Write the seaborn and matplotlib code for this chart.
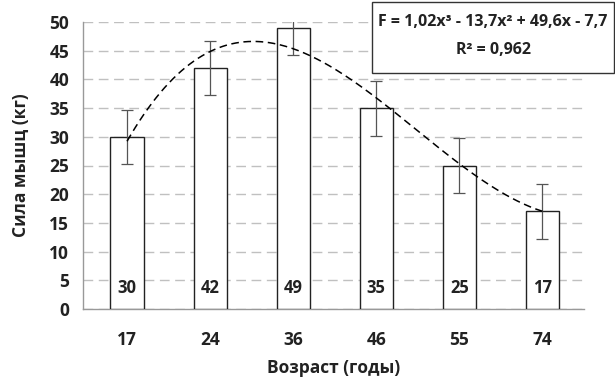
import numpy as np
import pandas as pd
import matplotlib
matplotlib.use("Agg")
import matplotlib.pyplot as plt
import seaborn as sns
from matplotlib.patches import Rectangle

# данные
ages = ["17", "24", "36", "46", "55", "74"]
strength = [30, 42, 49, 35, 25, 17]
errors = [4.7, 4.75, 4.8, 4.8, 4.85, 4.75]
# коэффициенты полиномиального тренда (с графика)
trend_coef = [1.02, -13.7, 49.6, -7.7]

sns.set_style("white")
plt.rcParams["font.family"] = ["Open Sans", "DejaVu Sans"]
plt.rcParams["font.weight"] = "bold"

df = pd.DataFrame({"Возраст": ages, "Сила": strength})

fig = plt.figure(figsize=(6.15, 3.82), dpi=100)
ax = fig.add_axes([83 / 615, 1 - 309 / 382, 501 / 615, 287 / 382])

sns.barplot(data=df, x="Возраст", y="Сила", color="white", edgecolor="#222222",
            linewidth=1.0, width=0.4, ax=ax, zorder=3)
ax.errorbar(range(len(ages)), strength, yerr=errors, fmt="none", ecolor="#555555",
            elinewidth=0.9, capsize=4, capthick=0.9, zorder=4)

# линия тренда
xs = np.linspace(1, 6, 200)
ax.plot(xs - 1, np.polyval(trend_coef, xs), color="black", linestyle=(0, (5, 3)),
        linewidth=1.1, zorder=5)

# подписи внутри столбцов
for i, v in enumerate(strength):
    ax.text(i, 3.6, str(v), ha="center", va="center", fontsize=12, fontweight="bold",
            color="#222222", zorder=6)

ax.set_ylim(0, 50)
ax.set_xlim(-0.53, 5.5)
ax.set_yticks(range(0, 51, 5))
ax.yaxis.grid(True, color="#c0c0c0", linestyle=(0, (7, 4)), linewidth=1.0, zorder=0)
ax.set_axisbelow(True)
for s in ["top", "right"]:
    ax.spines[s].set_visible(False)
for s in ["left", "bottom"]:
    ax.spines[s].set_color("#999999")
    ax.spines[s].set_linewidth(1.0)

ax.set_xticks(np.arange(-0.5, 6.0, 1.0), minor=True)
ax.tick_params(axis="x", which="major", length=0, pad=16, labelsize=12.5)
ax.tick_params(axis="x", which="minor", direction="in", length=4, color="#999999")
ax.tick_params(axis="y", length=0, pad=10, labelsize=12.5)
for lab in ax.get_xticklabels() + ax.get_yticklabels():
    lab.set_fontweight("bold")
    lab.set_color("#222222")

ax.set_xlabel("Возраст (годы)", fontsize=12.5, fontweight="bold", color="#222222", labelpad=7)
ax.set_ylabel("Сила мышц (кг)", fontsize=12.5, fontweight="bold", color="#222222", labelpad=14)

# рамка с уравнением тренда
fig.patches.append(Rectangle((372 / 615, 1 - 73 / 382), 242 / 615, 71 / 382,
                             transform=fig.transFigure, facecolor="white",
                             edgecolor="#333333", linewidth=1.0, zorder=10))
fig.text(493 / 615, 1 - 22 / 382, "F = 1,02x³ - 13,7x² + 49,6x - 7,7",
         ha="center", va="center", fontsize=11.5, fontweight="bold", color="#222222", zorder=11)
fig.text(493 / 615, 1 - 50 / 382, "R² = 0,962",
         ha="center", va="center", fontsize=11.5, fontweight="bold", color="#222222", zorder=11)

fig.savefig("out.png", dpi=100)
